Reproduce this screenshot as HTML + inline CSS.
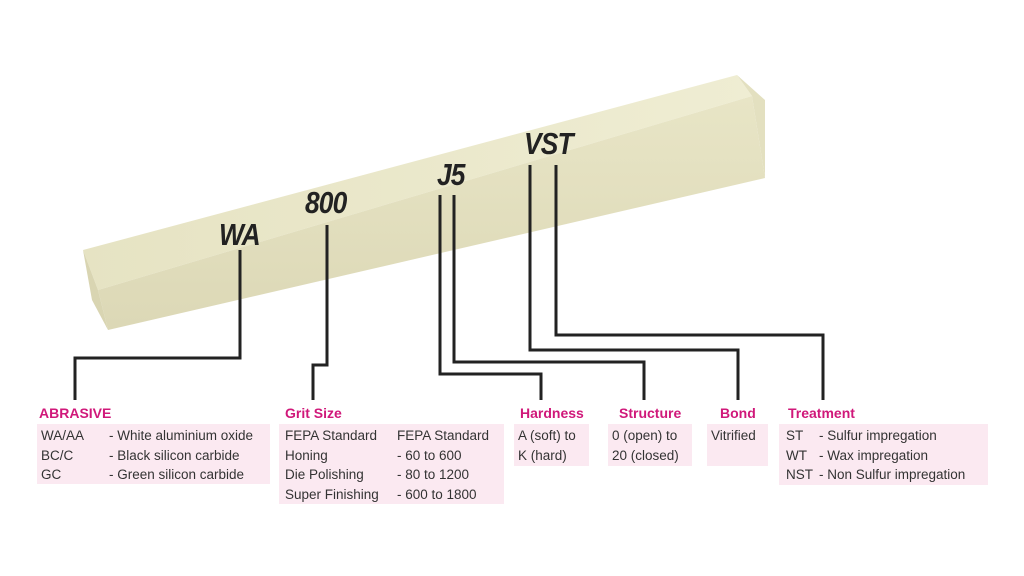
<!DOCTYPE html>
<html><head><meta charset="utf-8"><style>
html,body{margin:0;padding:0;background:#fff;}
body{width:1024px;height:576px;position:relative;overflow:hidden;font-family:"Liberation Sans",sans-serif;}
.t{position:absolute;color:#d0187a;font-weight:bold;font-size:14px;}
.b{position:absolute;background:#fbe9f1;font-size:13.5px;color:#333;line-height:19.5px;padding:2px 4px;box-sizing:border-box;white-space:nowrap;}
.b span{display:inline-block;}
.m{position:absolute;font-weight:bold;font-style:italic;font-size:31px;color:#222;letter-spacing:-1px;transform:scaleX(0.85);transform-origin:left top;}
</style></head><body>
<svg width="1024" height="576" style="position:absolute;left:0;top:0">
<defs>
<linearGradient id="g1" x1="0" y1="0" x2="1" y2="0"><stop offset="0" stop-color="#e6e3c3"/><stop offset="1" stop-color="#efedd3"/></linearGradient>
<linearGradient id="g2" x1="0" y1="0" x2="0" y2="1"><stop offset="0" stop-color="#e8e5c6"/><stop offset="1" stop-color="#dcd8b6"/></linearGradient>
</defs>
<polygon points="83,250 737,75 752,96 98,290" fill="url(#g1)"/>
<polygon points="98,290 752,96 765,178 108,330" fill="url(#g2)"/>
<polygon points="83,250 98,290 108,330 92,300" fill="#d9d5b2"/>
<polygon points="737,75 765,100 765,178 752,96" fill="#e3e0c0"/>
<g fill="none" stroke="#222" stroke-width="3">
<polyline points="240,250 240,358 75,358 75,400"/>
<polyline points="327,225 327,365 313,365 313,400"/>
<polyline points="440,195 440,374 541,374 541,400"/>
<polyline points="454,195 454,362 644,362 644,400"/>
<polyline points="530,165 530,350 738,350 738,400"/>
<polyline points="556,165 556,335 823,335 823,400"/>
</g>
</svg>
<div class="m" style="left:219px;top:217px">WA</div>
<div class="m" style="left:305px;top:185px">800</div>
<div class="m" style="left:437px;top:157px">J5</div>
<div class="m" style="left:524px;top:126px">VST</div>

<div class="t" style="left:39px;top:405px">ABRASIVE</div>
<div class="b" style="left:37px;top:424px;width:233px;height:60px"><span style="width:68px">WA/AA</span>- White aluminium oxide<br><span style="width:68px">BC/C</span>- Black silicon carbide<br><span style="width:68px">GC</span>- Green silicon carbide</div>

<div class="t" style="left:285px;top:405px">Grit Size</div>
<div class="b" style="left:279px;top:424px;width:225px;height:80px;padding-left:6px"><span style="width:112px">FEPA Standard</span>FEPA Standard<br><span style="width:112px">Honing</span>- 60 to 600<br><span style="width:112px">Die Polishing</span>- 80 to 1200<br><span style="width:112px">Super Finishing</span>- 600 to 1800</div>

<div class="t" style="left:520px;top:405px">Hardness</div>
<div class="b" style="left:514px;top:424px;width:75px;height:42px">A (soft) to<br>K (hard)</div>

<div class="t" style="left:619px;top:405px">Structure</div>
<div class="b" style="left:608px;top:424px;width:84px;height:42px">0 (open) to<br>20 (closed)</div>

<div class="t" style="left:720px;top:405px">Bond</div>
<div class="b" style="left:707px;top:424px;width:61px;height:42px">Vitrified</div>

<div class="t" style="left:788px;top:405px">Treatment</div>
<div class="b" style="left:779px;top:424px;width:209px;height:61px;padding-left:7px"><span style="width:33px">ST</span>- Sulfur impregation<br><span style="width:33px">WT</span>- Wax impregation<br><span style="width:33px">NST</span>- Non Sulfur impregation</div>
</body></html>
